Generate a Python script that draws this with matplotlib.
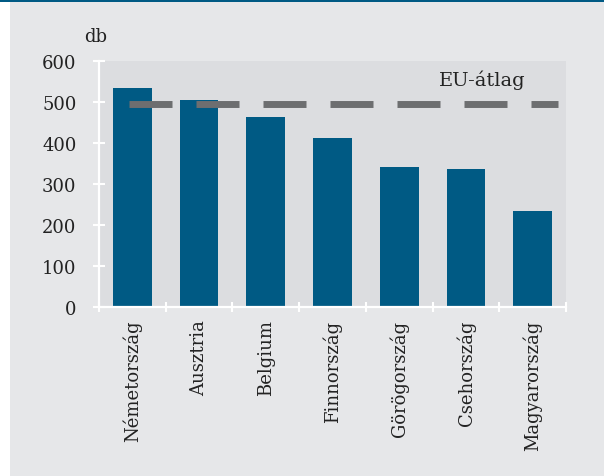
import matplotlib
matplotlib.use("Agg")
import matplotlib.pyplot as plt
from matplotlib.patches import Rectangle

categories = ["Németország", "Ausztria", "Belgium", "Finnország",
              "Görögország", "Csehország", "Magyarország"]
values = [533, 504, 464, 411, 342, 337, 235]
eu_avg = 495
yticks = [0, 100, 200, 300, 400, 500, 600]

W, H = 604, 477
plt.rcParams['font.family'] = ['DejaVu Serif']
fig = plt.figure(figsize=(W / 100, H / 100), dpi=100, facecolor='white')

# outer backgrounds
fig.patches.append(Rectangle((10 / W, 0), 1 - 10 / W, 1 - 3 / H, transform=fig.transFigure,
                             facecolor='#e6e7e9', edgecolor='none', zorder=-5))
fig.patches.append(Rectangle((0, 1 - 3 / H), 1, 3 / H, transform=fig.transFigure,
                             facecolor='#005a84', edgecolor='none', zorder=-5))

ax = fig.add_axes([99 / W, (H - 308) / H, (566 - 99) / W, (308 - 62) / H])
ax.set_facecolor('#dcdde0')

x = list(range(len(categories)))
ax.bar(x, values, width=0.58, color='#005a84', zorder=2)

lw = 5.0
on = 43 * 0.72 / lw
off = 24 * 0.72 / lw
ax.plot([-0.05, 6.38], [eu_avg, eu_avg], color='#6d6e70', lw=lw,
        linestyle=(0, (on, off)), solid_capstyle='butt', dash_capstyle='butt', zorder=3)
ax.text(5.24, 555, 'EU-átlag', ha='center', va='center', fontsize=14, color='#222222')

ax.set_xlim(-0.5, 6.5)
ax.set_ylim(0, 600)
ax.set_yticks(yticks)
ax.set_yticklabels([str(v) for v in yticks])
ax.set_xticks([i - 0.5 for i in range(len(categories) + 1)], minor=False)
ax.set_xticklabels([])
ax.set_xticks(x, minor=True)
ax.set_xticklabels(categories, minor=True, rotation=90, va='top', ha='center')

for s in ['top', 'right']:
    ax.spines[s].set_visible(False)
for s in ['left', 'bottom']:
    ax.spines[s].set_color('white')
    ax.spines[s].set_linewidth(1.6)
    ax.spines[s].set_zorder(4)

ax.tick_params(axis='y', direction='inout', length=8.5, width=1.5, color='white',
               labelsize=13, labelcolor='#222222', pad=12)
ax.tick_params(axis='x', which='major', direction='inout', length=7, width=1.5, color='white')
ax.tick_params(axis='x', which='minor', length=0, labelsize=13, labelcolor='#222222', pad=9)

fig.text(96 / W, 1 - 42 / H, 'db', ha='center', va='baseline', fontsize=13, color='#222222')

fig.savefig('out.png', dpi=100, facecolor=fig.get_facecolor())
